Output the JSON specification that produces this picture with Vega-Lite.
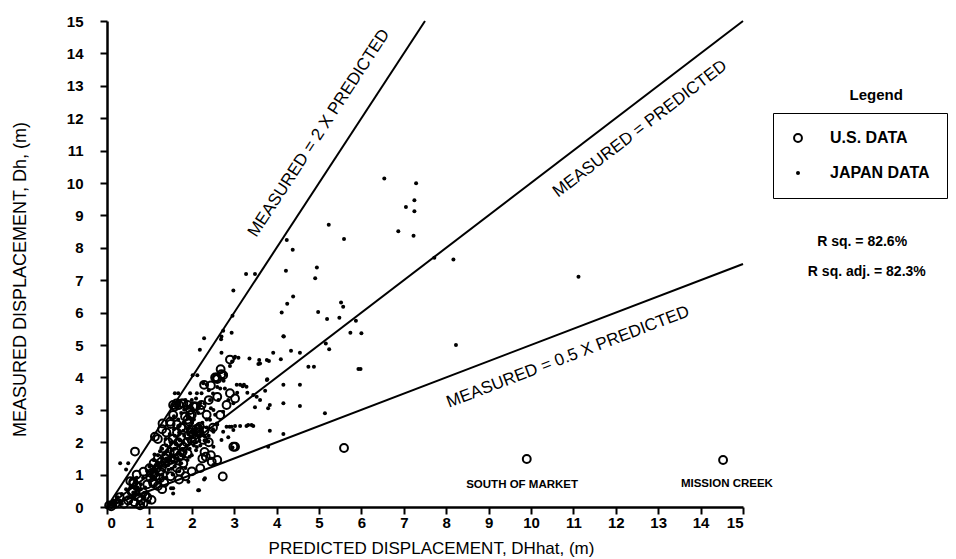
{
  "$schema": "https://vega.github.io/schema/vega-lite/v6.json",
  "width": 636,
  "height": 486,
  "autosize": {"type": "none"},
  "padding": {"left": 107, "top": 21, "right": 213, "bottom": 52},
  "background": "white",
  "config": {
    "view": {"stroke": null},
    "font": "Liberation Sans",
    "axis": {
      "domainColor": "black", "domainWidth": 2.5, "tickColor": "black", "tickWidth": 2, "tickSize": 7,
      "labelFont": "Liberation Sans", "labelFontWeight": "bold", "labelFontSize": 15, "labelColor": "black",
      "titleFont": "Liberation Sans", "titleFontWeight": "normal", "titleColor": "black", "grid": false
    },
    "legend": {
      "orient": "none", "legendX": 666, "legendY": 92, "strokeColor": "black", "padding": 17,
      "rowPadding": 19, "labelFont": "Liberation Sans", "labelFontSize": 16, "labelFontWeight": "bold",
      "labelColor": "black", "labelOffset": 24, "symbolOpacity": 1, "symbolStrokeWidth": 2
    }
  },
  "encoding": {
    "x": {"field": "x", "type": "quantitative", "scale": {"domain": [0, 15], "nice": false},
      "axis": {"values": [0,1,2,3,4,5,6,7,8,9,10,11,12,13,14,15], "labelPadding": 1, "title": "PREDICTED DISPLACEMENT, DHhat, (m)",
        "titleFontSize": 17, "titleX": 324, "titleY": 41, "titleBaseline": "middle", "titleAlign": "center"}},
    "y": {"field": "y", "type": "quantitative", "scale": {"domain": [0, 15], "nice": false},
      "axis": {"values": [0,1,2,3,4,5,6,7,8,9,10,11,12,13,14,15], "labelPadding": 17, "title": "MEASURED DISPLACEMENT, Dh, (m)",
        "titleFontSize": 18, "titleX": -87, "titleY": 258, "titleAngle": 270, "titleBaseline": "middle", "titleAlign": "center"}}
  },
  "layer": [
    {
      "data": {"values": [
        {"line": "2x", "x": 0, "y": 0}, {"line": "2x", "x": 7.5, "y": 15},
        {"line": "1x", "x": 0, "y": 0}, {"line": "1x", "x": 15, "y": 15},
        {"line": "0.5x", "x": 0, "y": 0}, {"line": "0.5x", "x": 15, "y": 7.5}
      ]},
      "mark": {"type": "line", "color": "black", "strokeWidth": 2},
      "encoding": {"detail": {"field": "line", "type": "nominal"}}
    },
    {
      "data": {"values": [
        {"src":"JP","x":6.54,"y":10.14},{"src":"JP","x":7.29,"y":9.99},{"src":"JP","x":7.25,"y":9.47},{"src":"JP","x":7.05,"y":9.26},{"src":"JP","x":7.25,"y":9.13},
        {"src":"JP","x":6.87,"y":8.51},{"src":"JP","x":7.23,"y":8.37},{"src":"JP","x":5.23,"y":8.71},{"src":"JP","x":5.59,"y":8.27},{"src":"JP","x":4.24,"y":8.24},
        {"src":"JP","x":4.38,"y":7.94},{"src":"JP","x":4.22,"y":7.29},{"src":"JP","x":4.95,"y":7.39},{"src":"JP","x":4.91,"y":7.06},{"src":"JP","x":4.39,"y":6.5},
        {"src":"JP","x":4.25,"y":6.27},{"src":"JP","x":4.12,"y":6.0},{"src":"JP","x":5.52,"y":6.31},{"src":"JP","x":5.57,"y":6.18},{"src":"JP","x":4.98,"y":6.02},
        {"src":"JP","x":5.19,"y":5.8},{"src":"JP","x":5.48,"y":5.84},{"src":"JP","x":5.87,"y":5.75},{"src":"JP","x":4.16,"y":5.27},{"src":"JP","x":5.74,"y":5.38},
        {"src":"JP","x":6.0,"y":5.36},{"src":"JP","x":3.92,"y":4.76},{"src":"JP","x":4.34,"y":4.82},{"src":"JP","x":4.55,"y":4.76},{"src":"JP","x":3.82,"y":4.51},
        {"src":"JP","x":4.1,"y":4.56},{"src":"JP","x":5.16,"y":5.05},{"src":"JP","x":5.24,"y":4.87},{"src":"JP","x":4.75,"y":4.33},{"src":"JP","x":4.88,"y":4.33},
        {"src":"JP","x":5.93,"y":4.26},{"src":"JP","x":5.98,"y":4.26},{"src":"JP","x":3.61,"y":4.43},{"src":"JP","x":8.17,"y":7.64},{"src":"JP","x":7.72,"y":7.69},
        {"src":"JP","x":11.12,"y":7.11},{"src":"JP","x":8.23,"y":5.0},{"src":"JP","x":4.55,"y":3.77},{"src":"JP","x":4.55,"y":3.12},{"src":"JP","x":5.14,"y":2.89},
        {"src":"JP","x":2.29,"y":5.21},{"src":"JP","x":2.19,"y":4.85},{"src":"JP","x":2.98,"y":6.68},{"src":"JP","x":2.7,"y":5.26},{"src":"JP","x":2.94,"y":5.38},
        {"src":"JP","x":3.28,"y":7.19},{"src":"JP","x":3.49,"y":7.19},{"src":"JP","x":2.96,"y":5.9},{"src":"JP","x":2.74,"y":5.44},{"src":"JP","x":2.69,"y":5.18},
        {"src":"JP","x":2.7,"y":4.76},{"src":"JP","x":3.02,"y":4.64},{"src":"JP","x":3.1,"y":4.61},{"src":"JP","x":3.36,"y":4.58},{"src":"JP","x":3.57,"y":4.41},
        {"src":"JP","x":4.17,"y":5.26},{"src":"JP","x":2.95,"y":4.49},{"src":"JP","x":2.9,"y":4.35},{"src":"JP","x":3.59,"y":4.54},{"src":"JP","x":3.77,"y":4.54},
        {"src":"JP","x":3.77,"y":3.92},{"src":"JP","x":3.45,"y":3.46},{"src":"JP","x":3.29,"y":3.71},{"src":"JP","x":3.2,"y":3.73},{"src":"JP","x":3.06,"y":3.77},
        {"src":"JP","x":3.73,"y":3.59},{"src":"JP","x":4.16,"y":3.77},{"src":"JP","x":3.84,"y":3.15},{"src":"JP","x":4.16,"y":3.2},{"src":"JP","x":3.49,"y":3.08},
        {"src":"JP","x":3.29,"y":2.5},{"src":"JP","x":3.45,"y":2.5},{"src":"JP","x":3.14,"y":2.5},{"src":"JP","x":2.89,"y":2.48},{"src":"JP","x":3.02,"y":2.5},
        {"src":"JP","x":3.84,"y":2.35},{"src":"JP","x":4.16,"y":2.25},{"src":"JP","x":3.8,"y":1.86},{"src":"JP","x":2.98,"y":2.38},{"src":"JP","x":2.17,"y":0.52},
        {"src":"JP","x":2.29,"y":0.85},{"src":"JP","x":2.51,"y":1.3},{"src":"JP","x":1.56,"y":0.58},{"src":"JP","x":1.92,"y":0.78},{"src":"JP","x":0.31,"y":1.35},
        {"src":"JP","x":0.5,"y":1.35},{"src":"JP","x":0.45,"y":1.16},{"src":"JP","x":3.78,"y":3.94},{"src":"JP","x":3.14,"y":3.77},{"src":"JP","x":3.23,"y":3.77},
        {"src":"JP","x":3.07,"y":3.53},{"src":"JP","x":3.31,"y":3.53},{"src":"JP","x":2.67,"y":3.66},{"src":"JP","x":2.78,"y":3.66},{"src":"JP","x":2.86,"y":3.3},
        {"src":"JP","x":2.98,"y":3.2},{"src":"JP","x":3.53,"y":3.4},{"src":"JP","x":3.61,"y":3.3},{"src":"JP","x":3.8,"y":3.05},{"src":"JP","x":3.33,"y":2.53},
        {"src":"JP","x":3.41,"y":2.53},{"src":"JP","x":2.94,"y":2.48},{"src":"JP","x":2.82,"y":2.48},{"src":"JP","x":2.74,"y":2.32},{"src":"JP","x":2.51,"y":2.32},
        {"src":"JP","x":2.7,"y":2.07},{"src":"JP","x":2.39,"y":2.02},{"src":"JP","x":2.51,"y":1.86},{"src":"JP","x":2.96,"y":1.84},{"src":"JP","x":2.86,"y":2.15},
        {"src":"JP","x":2.02,"y":4.07},{"src":"JP","x":2.13,"y":4.07},{"src":"JP","x":2.27,"y":3.82},{"src":"JP","x":2.35,"y":3.77},{"src":"JP","x":1.96,"y":3.51},
        {"src":"JP","x":2.12,"y":3.51},{"src":"JP","x":2.23,"y":3.51},{"src":"JP","x":2.43,"y":3.3},{"src":"JP","x":2.63,"y":3.3},{"src":"JP","x":2.51,"y":2.99},
        {"src":"JP","x":2.74,"y":2.94},{"src":"JP","x":2.43,"y":2.69},{"src":"JP","x":2.59,"y":2.58},{"src":"JP","x":2.19,"y":2.22},{"src":"JP","x":2.31,"y":2.17},
        {"src":"JP","x":1.6,"y":3.51},{"src":"JP","x":1.68,"y":3.51},{"src":"JP","x":1.51,"y":0.58},{"src":"JP","x":1.56,"y":0.42},{"src":"JP","x":2.15,"y":0.52},
        {"src":"JP","x":2.31,"y":0.89},
        {"src":"JP","x":0.9,"y":0.6},{"src":"JP","x":1.0,"y":0.8},{"src":"JP","x":1.05,"y":0.95},{"src":"JP","x":1.1,"y":1.1},{"src":"JP","x":1.15,"y":1.3},
        {"src":"JP","x":1.2,"y":1.0},{"src":"JP","x":1.25,"y":1.2},{"src":"JP","x":1.3,"y":1.4},{"src":"JP","x":1.35,"y":1.1},{"src":"JP","x":1.4,"y":1.5},
        {"src":"JP","x":1.45,"y":1.3},{"src":"JP","x":1.5,"y":1.6},{"src":"JP","x":1.55,"y":1.4},{"src":"JP","x":1.6,"y":1.8},{"src":"JP","x":1.65,"y":1.5},
        {"src":"JP","x":1.7,"y":1.9},{"src":"JP","x":1.75,"y":1.6},{"src":"JP","x":1.8,"y":2.0},{"src":"JP","x":1.85,"y":1.7},{"src":"JP","x":1.9,"y":2.1},
        {"src":"JP","x":1.95,"y":1.8},{"src":"JP","x":2.0,"y":2.3},{"src":"JP","x":2.05,"y":1.9},{"src":"JP","x":2.1,"y":2.0},{"src":"JP","x":1.2,"y":1.6},
        {"src":"JP","x":1.3,"y":1.8},{"src":"JP","x":1.4,"y":1.9},{"src":"JP","x":1.5,"y":2.0},{"src":"JP","x":1.6,"y":2.2},{"src":"JP","x":1.7,"y":2.3},
        {"src":"JP","x":1.1,"y":1.45},{"src":"JP","x":1.0,"y":1.25},{"src":"JP","x":0.95,"y":1.1},{"src":"JP","x":0.85,"y":0.9},{"src":"JP","x":0.8,"y":0.7},
        {"src":"JP","x":0.75,"y":0.5},{"src":"JP","x":0.7,"y":0.4},{"src":"JP","x":0.6,"y":0.35},{"src":"JP","x":0.5,"y":0.3},{"src":"JP","x":0.4,"y":0.25},
        {"src":"JP","x":0.3,"y":0.2},{"src":"JP","x":0.2,"y":0.15},{"src":"JP","x":0.1,"y":0.08},{"src":"JP","x":0.15,"y":0.2},{"src":"JP","x":0.25,"y":0.3},
        {"src":"JP","x":0.35,"y":0.4},{"src":"JP","x":0.45,"y":0.55},{"src":"JP","x":0.55,"y":0.6},{"src":"JP","x":0.65,"y":0.75},{"src":"JP","x":0.7,"y":0.9},
        {"src":"JP","x":1.3,"y":1.0},{"src":"JP","x":1.45,"y":1.15},{"src":"JP","x":1.6,"y":1.25},{"src":"JP","x":1.75,"y":1.35},{"src":"JP","x":1.9,"y":1.45},
        {"src":"JP","x":2.0,"y":1.6},{"src":"JP","x":1.85,"y":1.2},{"src":"JP","x":1.7,"y":1.1},{"src":"JP","x":1.55,"y":1.0},{"src":"JP","x":1.4,"y":0.9},
        {"src":"JP","x":1.25,"y":0.85},{"src":"JP","x":2.1,"y":1.75},{"src":"JP","x":2.2,"y":1.9},{"src":"JP","x":2.3,"y":2.05},{"src":"JP","x":2.4,"y":2.2},
        {"src":"JP","x":2.5,"y":2.4},{"src":"JP","x":2.6,"y":2.55},{"src":"JP","x":2.35,"y":2.7},{"src":"JP","x":2.2,"y":2.5},{"src":"JP","x":2.15,"y":2.9},
        {"src":"JP","x":2.0,"y":2.6},{"src":"JP","x":1.9,"y":2.4},{"src":"JP","x":1.8,"y":2.6},{"src":"JP","x":1.75,"y":2.9},{"src":"JP","x":1.9,"y":3.1},
        {"src":"JP","x":2.0,"y":3.3},{"src":"JP","x":2.3,"y":3.2},{"src":"JP","x":2.45,"y":3.05},{"src":"JP","x":2.55,"y":2.85},{"src":"JP","x":1.65,"y":3.05},
        {"src":"JP","x":1.7,"y":3.25},{"src":"JP","x":1.85,"y":3.3},{"src":"JP","x":2.1,"y":3.35},{"src":"JP","x":2.4,"y":3.6},{"src":"JP","x":2.5,"y":3.5},
        {"src":"JP","x":2.6,"y":3.7},{"src":"JP","x":2.75,"y":3.9},{"src":"JP","x":2.8,"y":4.1},{"src":"JP","x":3.0,"y":4.6},
        {"src":"JP","x":0.2,"y":0.05},{"src":"JP","x":0.35,"y":0.1},{"src":"JP","x":0.55,"y":0.15},{"src":"JP","x":0.65,"y":0.25},{"src":"JP","x":0.85,"y":0.1},{"src":"JP","x":1.0,"y":0.15},
        {"src":"JP","x":1.05,"y":1.15},{"src":"JP","x":1.12,"y":1.22},{"src":"JP","x":1.18,"y":1.38},{"src":"JP","x":1.22,"y":1.28},{"src":"JP","x":1.28,"y":1.52},
        {"src":"JP","x":1.33,"y":1.62},{"src":"JP","x":1.38,"y":1.3},{"src":"JP","x":1.42,"y":1.72},{"src":"JP","x":1.48,"y":1.42},{"src":"JP","x":1.52,"y":1.75},
        {"src":"JP","x":1.58,"y":1.55},{"src":"JP","x":1.62,"y":1.95},{"src":"JP","x":1.68,"y":1.68},{"src":"JP","x":1.72,"y":2.05},{"src":"JP","x":1.78,"y":1.78},
        {"src":"JP","x":1.82,"y":2.2},{"src":"JP","x":1.88,"y":1.9},{"src":"JP","x":1.92,"y":2.25},{"src":"JP","x":1.98,"y":2.0},{"src":"JP","x":2.02,"y":2.15},
        {"src":"JP","x":2.08,"y":2.25},{"src":"JP","x":2.12,"y":1.85},{"src":"JP","x":2.18,"y":2.05},{"src":"JP","x":2.25,"y":2.3},{"src":"JP","x":1.15,"y":0.85},
        {"src":"JP","x":1.22,"y":0.75},{"src":"JP","x":1.32,"y":0.92},{"src":"JP","x":1.42,"y":1.05},{"src":"JP","x":1.52,"y":1.18},{"src":"JP","x":1.62,"y":1.38},
        {"src":"JP","x":1.72,"y":1.45},{"src":"JP","x":1.82,"y":1.55},{"src":"JP","x":1.95,"y":1.55},{"src":"JP","x":0.95,"y":0.45},{"src":"JP","x":0.88,"y":0.3},
        {"src":"JP","x":0.8,"y":0.55},{"src":"JP","x":0.72,"y":0.6},{"src":"JP","x":0.62,"y":0.45},{"src":"JP","x":1.12,"y":1.62},{"src":"JP","x":1.25,"y":1.72},
        {"src":"JP","x":1.38,"y":2.1},{"src":"JP","x":1.48,"y":2.25},{"src":"JP","x":1.58,"y":2.4},{"src":"JP","x":1.68,"y":2.5},{"src":"JP","x":1.8,"y":2.35},
        {"src":"JP","x":1.95,"y":2.5},{"src":"JP","x":2.05,"y":2.7},{"src":"JP","x":2.25,"y":2.6},{"src":"JP","x":2.35,"y":2.45},{"src":"JP","x":1.58,"y":2.8},
        {"src":"JP","x":1.68,"y":2.7},{"src":"JP","x":1.82,"y":3.0},{"src":"JP","x":2.0,"y":3.0},{"src":"JP","x":2.2,"y":3.2},{"src":"JP","x":2.15,"y":3.1},
        {"src":"US","x":5.59,"y":1.82},{"src":"US","x":9.9,"y":1.48},{"src":"US","x":14.53,"y":1.45},
        {"src":"US","x":0.66,"y":1.71},{"src":"US","x":2.73,"y":0.94},{"src":"US","x":2.98,"y":1.86},{"src":"US","x":2.33,"y":1.55},{"src":"US","x":2.47,"y":1.4},
        {"src":"US","x":2.29,"y":3.77},{"src":"US","x":2.68,"y":4.25},{"src":"US","x":2.59,"y":4.0},{"src":"US","x":1.56,"y":3.15},{"src":"US","x":1.76,"y":3.2},
        {"src":"US","x":1.96,"y":2.99},{"src":"US","x":2.1,"y":3.1},{"src":"US","x":2.23,"y":3.15},{"src":"US","x":1.49,"y":2.63},{"src":"US","x":1.31,"y":2.58},
        {"src":"US","x":1.92,"y":2.58},{"src":"US","x":1.13,"y":2.17},{"src":"US","x":2.04,"y":2.27},{"src":"US","x":2.19,"y":2.48},{"src":"US","x":0.86,"y":1.09},
        {"src":"US","x":0.62,"y":0.73},{"src":"US","x":0.58,"y":0.47},{"src":"US","x":0.86,"y":0.11},{"src":"US","x":1.09,"y":0.73},{"src":"US","x":1.05,"y":1.04},
        {"src":"US","x":1.37,"y":1.35},{"src":"US","x":1.6,"y":1.5},{"src":"US","x":1.72,"y":1.09},{"src":"US","x":1.25,"y":0.89},
        {"src":"US","x":2.55,"y":4.0},{"src":"US","x":2.74,"y":4.07},{"src":"US","x":2.9,"y":3.51},{"src":"US","x":3.02,"y":3.35},{"src":"US","x":2.82,"y":3.15},
        {"src":"US","x":1.64,"y":3.2},{"src":"US","x":1.56,"y":2.84},{"src":"US","x":2.04,"y":3.1},{"src":"US","x":1.96,"y":2.84},{"src":"US","x":1.84,"y":2.79},
        {"src":"US","x":2.12,"y":2.32},{"src":"US","x":1.92,"y":2.22},{"src":"US","x":2.67,"y":2.84},{"src":"US","x":3.02,"y":1.86},{"src":"US","x":2.27,"y":2.07},
        {"src":"US","x":1.5,"y":2.56},{"src":"US","x":1.94,"y":2.63},{"src":"US","x":2.15,"y":2.43},{"src":"US","x":1.09,"y":0.78},{"src":"US","x":0.62,"y":0.78},
        {"src":"US","x":1.05,"y":0.22},
        {"src":"US","x":1.0,"y":1.2},{"src":"US","x":1.1,"y":1.35},{"src":"US","x":1.2,"y":1.5},{"src":"US","x":1.3,"y":1.25},{"src":"US","x":1.4,"y":1.6},
        {"src":"US","x":1.5,"y":1.45},{"src":"US","x":1.6,"y":1.7},{"src":"US","x":1.7,"y":1.55},{"src":"US","x":1.8,"y":1.85},{"src":"US","x":1.9,"y":1.65},
        {"src":"US","x":2.0,"y":2.05},{"src":"US","x":1.15,"y":0.95},{"src":"US","x":1.25,"y":1.1},{"src":"US","x":1.35,"y":1.8},{"src":"US","x":1.45,"y":2.0},
        {"src":"US","x":1.55,"y":2.1},{"src":"US","x":1.65,"y":2.3},{"src":"US","x":1.75,"y":2.15},{"src":"US","x":0.95,"y":0.7},{"src":"US","x":0.85,"y":0.45},
        {"src":"US","x":0.75,"y":0.3},{"src":"US","x":0.8,"y":0.2},{"src":"US","x":0.9,"y":0.35},{"src":"US","x":0.5,"y":0.2},{"src":"US","x":0.4,"y":0.1},
        {"src":"US","x":0.6,"y":0.5},{"src":"US","x":0.7,"y":0.65},{"src":"US","x":1.7,"y":3.15},{"src":"US","x":1.6,"y":3.1},{"src":"US","x":1.8,"y":3.2},
        {"src":"US","x":1.9,"y":3.15},{"src":"US","x":2.05,"y":3.1},{"src":"US","x":2.2,"y":3.0},{"src":"US","x":2.35,"y":2.85},{"src":"US","x":2.5,"y":2.45},
        {"src":"US","x":2.1,"y":2.4},{"src":"US","x":2.3,"y":1.7},{"src":"US","x":2.45,"y":1.6},{"src":"US","x":2.6,"y":1.45},{"src":"US","x":2.2,"y":1.2},
        {"src":"US","x":2.0,"y":1.1},{"src":"US","x":1.85,"y":0.95},{"src":"US","x":1.7,"y":0.85},{"src":"US","x":0.7,"y":1.0},{"src":"US","x":0.55,"y":0.8},
        {"src":"US","x":0.3,"y":0.3},{"src":"US","x":0.2,"y":0.1},{"src":"US","x":0.05,"y":0.05},{"src":"US","x":0.1,"y":0.02},{"src":"US","x":1.9,"y":2.7},
        {"src":"US","x":2.0,"y":2.85},{"src":"US","x":2.3,"y":2.35},{"src":"US","x":1.3,"y":2.4},{"src":"US","x":1.2,"y":2.1},{"src":"US","x":2.7,"y":4.1},
        {"src":"US","x":2.6,"y":3.95},{"src":"US","x":2.45,"y":3.75},{"src":"US","x":2.9,"y":4.55},
        {"src":"US","x":1.02,"y":0.9},{"src":"US","x":1.12,"y":1.05},{"src":"US","x":1.18,"y":1.2},{"src":"US","x":1.28,"y":1.4},{"src":"US","x":1.38,"y":1.5},
        {"src":"US","x":1.48,"y":1.7},{"src":"US","x":1.58,"y":1.9},{"src":"US","x":1.68,"y":2.0},{"src":"US","x":1.78,"y":1.7},{"src":"US","x":1.88,"y":2.0},
        {"src":"US","x":1.98,"y":2.3},{"src":"US","x":2.08,"y":2.1},{"src":"US","x":2.18,"y":2.3},{"src":"US","x":1.2,"y":0.65},{"src":"US","x":1.35,"y":0.75},
        {"src":"US","x":1.5,"y":0.95},{"src":"US","x":1.65,"y":1.2},{"src":"US","x":1.8,"y":1.35},{"src":"US","x":0.95,"y":0.3},{"src":"US","x":0.78,"y":0.05},
        {"src":"US","x":0.65,"y":0.15},{"src":"US","x":1.4,"y":2.3},{"src":"US","x":1.65,"y":2.55},{"src":"US","x":1.75,"y":2.45},{"src":"US","x":2.4,"y":2.0},
        {"src":"US","x":2.25,"y":1.5},{"src":"US","x":1.3,"y":0.55},{"src":"US","x":2.4,"y":3.3},{"src":"US","x":2.6,"y":3.4}
      ]},
      "mark": {"type": "point", "opacity": 1, "strokeWidth": 2},
      "encoding": {
        "fill": {"field": "src", "type": "nominal", "scale": {"domain": ["US", "JP"], "range": ["transparent", "black"]},
          "legend": {"title": null, "labelExpr": "datum.label == 'US' ? 'U.S. DATA' : 'JAPAN DATA'"}},
        "stroke": {"field": "src", "type": "nominal", "scale": {"domain": ["US", "JP"], "range": ["black", "transparent"]},
          "legend": {"title": null, "labelExpr": "datum.label == 'US' ? 'U.S. DATA' : 'JAPAN DATA'"}},
        "size": {"field": "src", "type": "nominal", "scale": {"domain": ["US", "JP"], "range": [62, 16]},
          "legend": {"title": null, "labelExpr": "datum.label == 'US' ? 'U.S. DATA' : 'JAPAN DATA'"}}
      }
    },
    {
      "data": {"values": [{"label": "MEASURED = 2 X PREDICTED", "x": 5.0, "y": 11.54}]},
      "mark": {"type": "text", "angle": 303.2, "fontSize": 17, "align": "center", "baseline": "middle", "color": "black"},
      "encoding": {"text": {"field": "label"}}
    },
    {
      "data": {"values": [{"label": "MEASURED = PREDICTED", "x": 12.57, "y": 11.67}]},
      "mark": {"type": "text", "angle": 322.6, "fontSize": 17, "align": "center", "baseline": "middle", "color": "black"},
      "encoding": {"text": {"field": "label"}}
    },
    {
      "data": {"values": [{"label": "MEASURED = 0.5 X PREDICTED", "x": 10.87, "y": 4.63}]},
      "mark": {"type": "text", "angle": 339.1, "fontSize": 17, "align": "center", "baseline": "middle", "color": "black"},
      "encoding": {"text": {"field": "label"}}
    },
    {
      "data": {"values": [{"label": "SOUTH OF MARKET", "x": 9.79, "y": 0.68}, {"label": "MISSION CREEK", "x": 14.62, "y": 0.71}]},
      "mark": {"type": "text", "fontSize": 11.5, "fontWeight": "bold", "align": "center", "baseline": "middle", "color": "black"},
      "encoding": {"text": {"field": "label"}}
    },
    {
      "data": {"values": [{"label": "Legend", "x": 18.14, "y": 12.72}]},
      "mark": {"type": "text", "fontSize": 15, "fontWeight": "bold", "align": "center", "baseline": "middle", "color": "black"},
      "encoding": {"text": {"field": "label"}}
    },
    {
      "data": {"values": [{"label": "R sq. = 82.6%", "x": 17.81, "y": 8.18}, {"label": "R sq. adj. = 82.3%", "x": 17.92, "y": 7.25}]},
      "mark": {"type": "text", "fontSize": 14, "fontWeight": "bold", "align": "center", "baseline": "middle", "color": "black"},
      "encoding": {"text": {"field": "label"}}
    }
  ]
}
